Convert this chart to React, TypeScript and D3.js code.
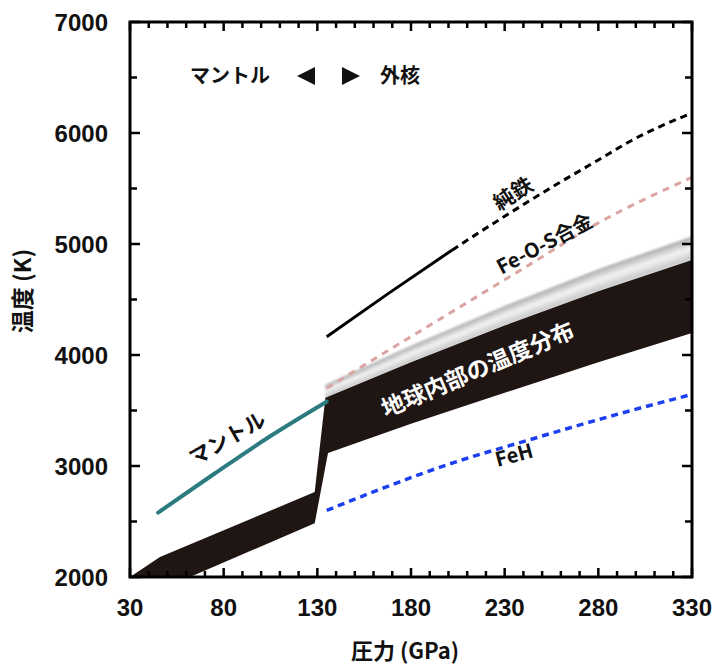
import React from "react";
import * as d3 from "d3";

const X_TICKS = [30, 80, 130, 180, 230, 280, 330];
const Y_TICKS = [2000, 3000, 4000, 5000, 6000, 7000];

// [pressure GPa, temperature K]
const mantleLine = [[45, 2580], [75, 2930], [105, 3270], [135, 3580]];
const pureIronSolid = [[135, 4165], [168, 4555], [202, 4946]];
const pureIronDashed = [[202, 4946], [230, 5250], [258, 5540], [280, 5757], [298, 5935], [330, 6180]];
const feOSAlloy = [[135, 3700], [160, 3960], [200, 4370], [240, 4780], [280, 5190], [330, 5600]];
const feH = [[135, 2600], [165, 2800], [200, 3015], [243, 3235], [290, 3465], [330, 3645]];

// temperature distribution band (upper edge left->right, lower edge right->left)
const bandUpper = [[30, 2000], [46, 2180], [128.6, 2765], [134.3, 3615], [180, 3935], [230, 4265], [280, 4575], [330, 4856]];
const bandLower = [[330, 4198], [280, 3935], [230, 3660], [180, 3380], [135.7, 3117], [128.6, 2484], [62, 2000], [30, 2000]];
// grey halo above the outer core band
const haloP = [134.3, 180, 230, 280, 330];
const haloTop = [3730, 4080, 4440, 4770, 5066];
const haloBottom = [3615, 3935, 4265, 4575, 4856];

const L = 130, R = 692, T = 22, B = 577;

export default function App() {
  const x = d3.scaleLinear().domain([30, 330]).range([L, R]);
  const y = d3.scaleLinear().domain([2000, 7000]).range([B, T]);
  const line = d3.line<number[]>().x(d => x(d[0])).y(d => y(d[1])).curve(d3.curveMonotoneX);
  const poly = d3.line<number[]>().x(d => x(d[0])).y(d => y(d[1]));

  const bandPath = poly([...bandUpper, ...bandLower]) + "Z";

  const N = 14;
  const col = d3.scaleLinear<string>().domain([0, 0.5, 1]).range(["#a9a9a9", "#f4f4f4", "#c4c4c4"]);
  const strips = d3.range(N).map(k => {
    const t0 = k / N, t1 = (k + 1) / N;
    const e0 = haloP.map((p, i) => [p, haloTop[i] + t0 * (haloBottom[i] - haloTop[i])]);
    const e1 = haloP.map((p, i) => [p, haloTop[i] + t1 * (haloBottom[i] - haloTop[i])]).reverse();
    return { d: poly([...e0, ...e1]) + "Z", c: col((t0 + t1) / 2) };
  });

  const xMinor = d3.range(30, 331, 10);
  const yMinor = d3.range(2000, 7001, 500);
  const tickFont = "'Liberation Sans', Arial, sans-serif";
  const jp = "'Noto Sans CJK JP', sans-serif";

  const rot = (cx: number, cy: number, a: number) => `translate(${cx},${cy}) rotate(${a})`;

  return (
    <svg width={714} height={668} style={{ position: "absolute", left: 0, top: 0, background: "#fff" }}>
      <defs>
        <clipPath id="plot"><rect x={L} y={T} width={R - L} height={B - T} /></clipPath>
        <filter id="soft" x="-5%" y="-20%" width="110%" height="140%"><feGaussianBlur stdDeviation="1.2" /></filter>
      </defs>
      <g clipPath="url(#plot)">
        <g filter="url(#soft)">
          {strips.map((s, i) => <path key={i} d={s.d} fill={s.c} stroke={s.c} strokeWidth={0.6} />)}
        </g>
        <path d={line(feOSAlloy) || ""} fill="none" stroke="#dca3a3" strokeWidth={3} strokeDasharray="7 6" />
        <path d={bandPath} fill="#1f1513" />
        <path d={line(mantleLine) || ""} fill="none" stroke="#2c7b81" strokeWidth={4} strokeLinecap="round" />
        <path d={line(pureIronSolid) || ""} fill="none" stroke="#000" strokeWidth={3} />
        <path d={line(pureIronDashed) || ""} fill="none" stroke="#000" strokeWidth={3} strokeDasharray="7 5" />
        <path d={line(feH) || ""} fill="none" stroke="#1d3ff2" strokeWidth={3.5} strokeDasharray="7 5" />
      </g>

      {/* ticks */}
      {xMinor.map(v => {
        const major = (v - 30) % 50 === 0;
        const len = major ? 9 : 6;
        return (
          <g key={"x" + v} stroke="#000" strokeWidth={2.5}>
            <line x1={x(v)} x2={x(v)} y1={B} y2={B - len} />
            <line x1={x(v)} x2={x(v)} y1={T} y2={T + len} />
          </g>
        );
      })}
      {yMinor.map(v => {
        const major = v % 1000 === 0;
        const len = major ? 10 : 7;
        return (
          <g key={"y" + v} stroke="#000" strokeWidth={2.5}>
            <line x1={L} x2={L + len} y1={y(v)} y2={y(v)} />
            <line x1={R} x2={R - len} y1={y(v)} y2={y(v)} />
          </g>
        );
      })}
      <rect x={L} y={T} width={R - L} height={B - T} fill="none" stroke="#000" strokeWidth={3} />

      {X_TICKS.map(v => (
        <text key={"xl" + v} x={x(v)} y={616} textAnchor="middle" fontFamily={tickFont} fontWeight="bold" fontSize={24} fill="#111">{v}</text>
      ))}
      {Y_TICKS.map(v => (
        <text key={"yl" + v} x={108} y={y(v) + 8.5} textAnchor="end" fontFamily={tickFont} fontWeight="bold" fontSize={24} fill="#111">{v}</text>
      ))}

      <text transform={rot(31, 291, -90)} textAnchor="middle" fontFamily={jp} fontWeight="bold" fontSize={23} fill="#111">温度 (K)</text>
      <text x={405} y={659} textAnchor="middle" fontFamily={jp} fontWeight="bold" fontSize={22} fill="#111">圧力 (GPa)</text>

      {/* top annotation */}
      <text x={190} y={83} fontFamily={jp} fontWeight="bold" fontSize={20} fill="#111">マントル</text>
      <path d="M297,76 L315,67 L315,85 Z" fill="#111" />
      <path d="M342,67 L360,76 L342,85 Z" fill="#111" />
      <text x={380} y={83} fontFamily={jp} fontWeight="bold" fontSize={20} fill="#111">外核</text>

      {/* rotated labels */}
      <text transform={rot(231, 445, -30)} textAnchor="middle" fontFamily={jp} fontWeight="bold" fontSize={21} fill="#111">マントル</text>
      <text transform={rot(517, 200, -32)} textAnchor="middle" fontFamily={jp} fontWeight="bold" fontSize={21} fill="#111">純鉄</text>
      <text transform={rot(548, 250, -28)} textAnchor="middle" fontFamily={jp} fontWeight="bold" fontSize={20} fill="#111">Fe-O-S合金</text>
      <text transform={rot(481, 377, -23)} textAnchor="middle" fontFamily={jp} fontWeight="bold" fontSize={23} fill="#fff">地球内部の温度分布</text>
      <text transform={rot(516, 462, -15)} textAnchor="middle" fontFamily={jp} fontWeight="bold" fontSize={20} fill="#111">FeH</text>
    </svg>
  );
}
